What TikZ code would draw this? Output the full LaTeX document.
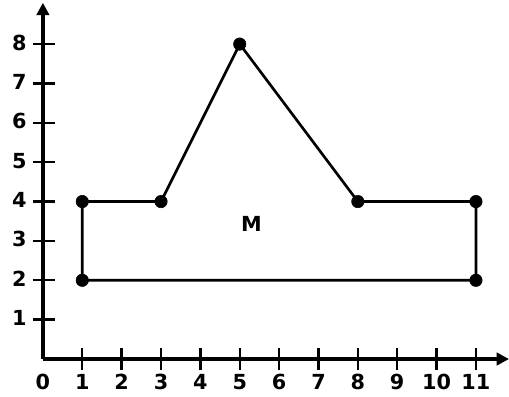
\documentclass[tikz,border=0pt]{standalone}
\usepackage{fontspec}
\setmainfont{DejaVu Sans}
\usetikzlibrary{arrows.meta}

\begin{document}
\begin{tikzpicture}[>={Triangle[length=9pt,width=9pt]},
  font=\fontsize{15}{17}\selectfont\bfseries,
  axis/.style={line width=2.6pt},
  edge/.style={line width=1.9pt},
  tick/.style={line width=1.7pt},
  lab/.style={inner sep=0pt, text height=1.6ex, text depth=0pt}]
  \useasboundingbox (-1.09,-0.94) rectangle (11.84,9.12);
  \coordinate (O) at (0,0);
  \coordinate (Xend) at (11.84,0);
  \coordinate (Yend) at (0,9.05);

  % axes
  \draw[axis, ->] (O) -- (Xend);
  \draw[axis, ->] (O) -- (Yend);
  \node[lab] (xl0) at (0,-0.62) {0};
  \foreach \x in {1,...,11} {
    \draw[tick] (\x,-0.28) -- (\x,0.28);
    \node[lab] (xl\x) at (\x,-0.62) {\x};
  }
  \foreach \y in {1,...,8} {
    \draw[tick] (-0.26,\y) -- (0.3,\y);
    \node[lab] (yl\y) at (-0.6,\y) {\y};
  }

  % figure M
  \coordinate (BL) at (1,2);
  \coordinate (TL) at (1,4);
  \coordinate (L) at (3,4);
  \coordinate (Top) at (5,8);
  \coordinate (R) at (8,4);
  \coordinate (TR) at (11,4);
  \coordinate (BR) at (11,2);

  \draw[edge] (BL) -- (TL) -- (L) -- (Top) -- (R) -- (TR) -- (BR) -- cycle;
  \foreach \p in {BL,TL,L,Top,R,TR,BR}
    \filldraw (\p) circle (4.5pt);

  \node[lab] (M) at (5.3,3.4) {M};
\end{tikzpicture}
\end{document}
